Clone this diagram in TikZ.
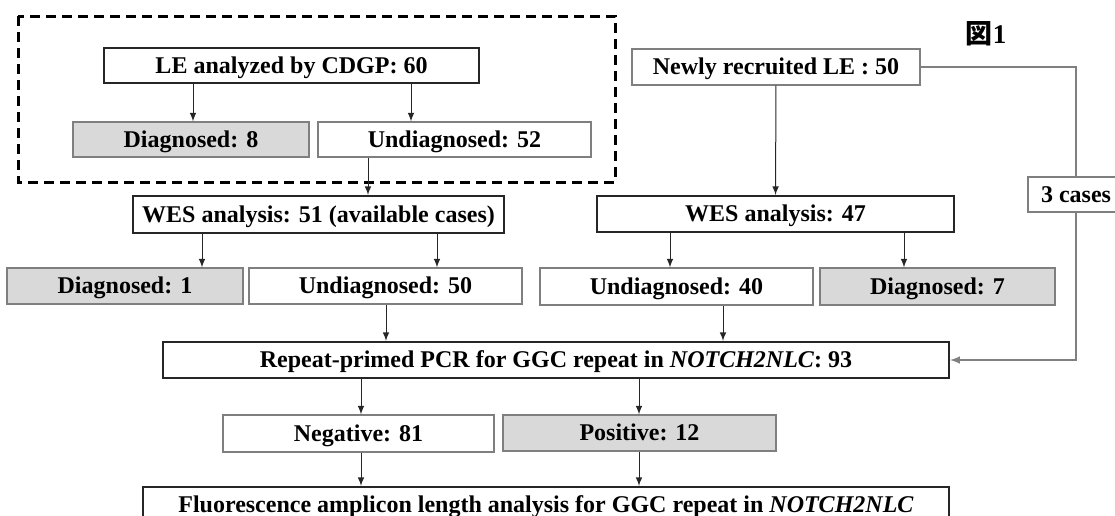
\documentclass[tikz,border=0pt]{standalone}
\usepackage{fontspec}
\setmainfont{Liberation Serif}
\newfontfamily\cjk{Noto Sans CJK JP}
\usetikzlibrary{arrows}
\definecolor{boxdark}{HTML}{262626}
\definecolor{boxgray}{HTML}{7F7F7F}
\definecolor{diaggray}{HTML}{D9D9D9}
\definecolor{routegray}{HTML}{808080}
\newcommand{\boxfont}{\bfseries\fontsize{12}{14}\selectfont}
\tikzset{
  mainbox/.style = {draw=boxdark, line width=1pt, fill=white, inner sep=0, minimum height=18pt,
                    text height=9pt, text depth=1.5pt, font=\boxfont},
  subbox/.style = {draw=boxgray, line width=0.6pt, fill=white, inner sep=0, minimum height=18pt,
                   text height=9pt, text depth=1.5pt, font=\boxfont},
  diagbox/.style = {subbox, fill=diaggray},
  arr/.style = {-latex, draw=boxdark, line width=0.5pt},
  route/.style = {draw=routegray, line width=0.7pt},
  dashbox/.style = {draw=black, line width=1.5pt, dash pattern=on 5pt off 3pt}
}

\begin{document}
\begin{tikzpicture}[x=0.5pt, y=-0.5pt]
  \useasboundingbox (0,0) rectangle (1115,515);
  \draw[dashbox] (18,16) rectangle (615,182);

  \node [font=\bfseries\fontsize{13.5}{15}\selectfont] (fig) at (986,34) {{\cjk 図}1};

  % first column
  \node [mainbox, minimum width=187.5pt, minimum height=17.5pt] (le) at (291.5,65.5) {LE analyzed by CDGP: 60};
  \node [diagbox, minimum width=118pt, minimum height=17.5pt] (dg8) at (191,139.5) {Diagnosed: 8};
  \node [subbox, minimum width=136.5pt, minimum height=17.5pt] (ud52) at (454.5,139.5) {Undiagnosed: 52};
  \node [mainbox, minimum width=185.5pt, minimum height=18.5pt] (wes51) at (318.5,214.5) {WES analysis: 51 (available cases)};
  \node [diagbox, minimum width=118pt] (dg1) at (125,286) {Diagnosed: 1};
  \node [subbox, minimum width=136.5pt] (ud50) at (385.5,286) {Undiagnosed: 50};

  % second column
  \node [subbox, minimum width=144pt] (new) at (776,67) {Newly recruited LE : 50};
  \node [mainbox, minimum width=178.5pt] (wes47) at (775.5,214) {WES analysis: 47};
  \node [subbox, minimum width=136.5pt, minimum height=18.5pt] (ud40) at (676.5,286.5) {Undiagnosed: 40};
  \node [diagbox, minimum width=117.5pt, minimum height=18.5pt] (dg7) at (937.5,286.5) {Diagnosed: 7};
  \node [subbox, minimum width=48pt, minimum height=17.5pt] (cases) at (1076,194.5) {3 cases};

  % bottom
  \node [mainbox, minimum width=393pt] (pcr) at (556,360) {Repeat-primed PCR for GGC repeat in \textit{NOTCH2NLC}: 93};
  \node [subbox, minimum width=135.5pt, minimum height=18.5pt] (neg) at (358.5,433.5) {Negative: 81};
  \node [diagbox, minimum width=136.5pt] (pos) at (639.5,433) {Positive: 12};
  \node [mainbox, minimum width=403pt] (flu) at (546,505) {Fluorescence amplicon length analysis for GGC repeat in \textit{NOTCH2NLC}};

  \foreach \a/\b/\x in {le/dg8/193, le/ud52/411, ud52/wes51/368, wes51/dg1/202, wes51/ud50/437,
                        wes47/ud40/670, wes47/dg7/904, ud50/pcr/386, ud40/pcr/723,
                        pcr/neg/361, pcr/pos/639, neg/flu/361, pos/flu/639}
    \draw [arr] (\x,0 |- \a.south) -- (\x,0 |- \b.north);
  \draw [arr] (new) -- (wes47);

  \draw [route] (new.east) -| (cases.north);
  \draw [route, -latex] (cases.south) |- (pcr.east);
\end{tikzpicture}
\end{document}
